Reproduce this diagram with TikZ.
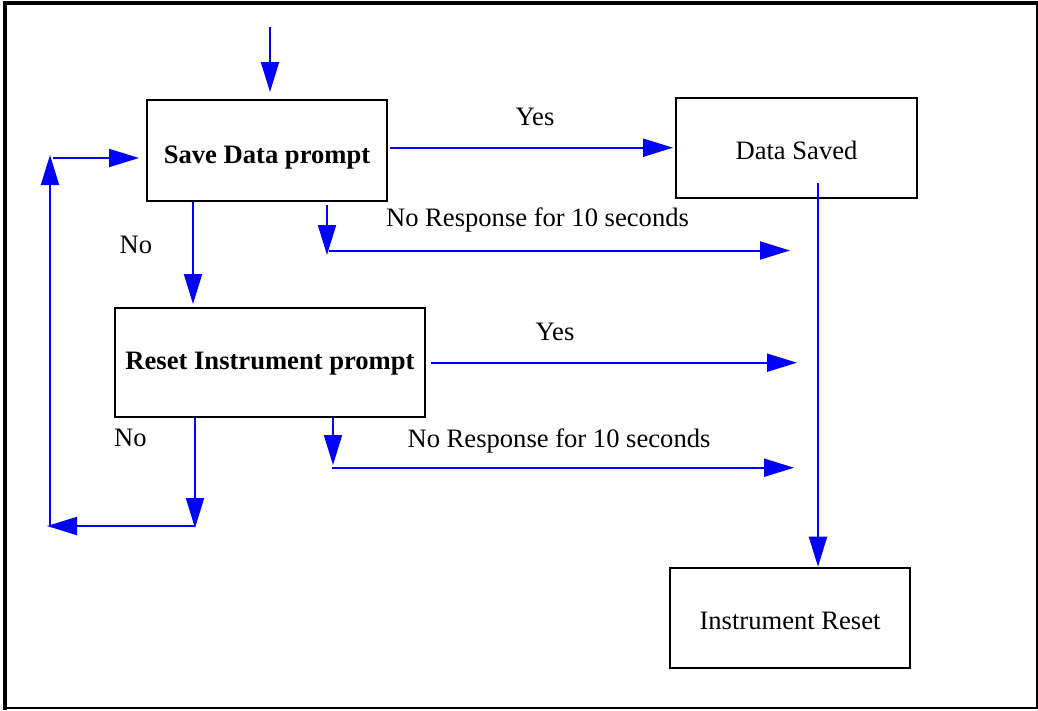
\documentclass[tikz,border=0pt]{standalone}
\usepackage{fontspec}
\setmainfont{Liberation Serif}
\usetikzlibrary{arrows.meta}
\begin{document}
\begin{tikzpicture}[x=1pt,y=-1pt,
  every node/.style={font=\fontsize{26.6}{32}\selectfont},
  box/.style={draw=black,line width=2pt,rectangle,inner sep=0pt,align=center},
  lbl/.style={anchor=base,inner sep=0pt},
  arr/.style={draw=blue,line width=2pt,-{Triangle[length=30pt,width=18pt]}}]
\useasboundingbox (0,0) rectangle (1038,710);
% frame
\draw[line width=4pt] (1037,3) -- (4.7,3) -- (4.7,709.5);
\draw[line width=2pt] (4.7,708.3) -- (1037,708.3) -- (1037,1);
% boxes
\node[box,minimum width=240pt,minimum height=101pt,text height=25pt,text depth=0pt] (sd) at (267,150.5) {\bfseries Save Data prompt};
\node[box,minimum width=310pt,minimum height=109pt,text height=19pt,text depth=6pt] (rs) at (270,362.5) {\bfseries Reset Instrument prompt};
\node[box,minimum width=241pt,minimum height=100pt,text height=22.6pt,text depth=0pt] (ds) at (796.5,147.7) {Data Saved};
\node[box,minimum width=240pt,minimum height=100pt,text height=22.6pt,text depth=0pt] (ir) at (790,617.7) {Instrument Reset};
% labels
\node[lbl] (yes1) at (535,125.7) {Yes};
\node[lbl] (yes2) at (555,340) {Yes};
\node[lbl] (nr1t) at (537.5,226.7) {No Response for 10 seconds};
\node[lbl] (nr2t) at (559,447) {No Response for 10 seconds};
\node[lbl] (no1) at (136,253) {No};
\node[lbl] (no2) at (130.5,446) {No};
% coordinates
\coordinate (entry) at (270,27);
\coordinate (dn1) at (193,0);
\coordinate (nr1) at (327,250.5);
\coordinate (nr1e) at (790,250.5);
\coordinate (yes2e) at (797,362.7);
\coordinate (nr2) at (333,467.7);
\coordinate (nr2e) at (794,467.7);
\coordinate (lbr) at (195,526);
\coordinate (lbl) at (47,526);
\coordinate (lup) at (50,526);
\coordinate (lupe) at (50,155);
\coordinate (lin) at (53,158);
\coordinate (dsx) at (818,183);
% connectors
\draw[arr,shorten >=7pt] (entry) -- (entry |- sd.north);
\draw[arr,shorten <=2pt,shorten >=2pt] (sd.east |- ds.west) -- (ds.west);
\draw[arr,shorten <=3pt] (sd.south -| nr1) -- ([yshift=-4.5pt]nr1);
\draw[arr] ([xshift=2pt]nr1) -- (nr1e);
\draw[arr,shorten >=3pt] (sd.south -| dn1) -- (rs.north -| dn1);
\draw[arr,shorten <=5pt] (rs.east |- yes2e) -- (yes2e);
\draw[arr] (rs.south -| nr2) -- ([yshift=2.7pt]nr2);
\draw[arr] ([xshift=-1pt]nr2) -- (nr2e);
\draw[arr] (rs.south -| lbr) -- ([yshift=-2pt]lbr);
\draw[arr] (lbr) -- (lbl);
\draw[arr] (lup) -- (lupe);
\draw[arr,shorten >=7pt] (lin) -- (sd.west |- lin);
\draw[arr] (dsx) -- (dsx |- ir.north);
\end{tikzpicture}
\end{document}
